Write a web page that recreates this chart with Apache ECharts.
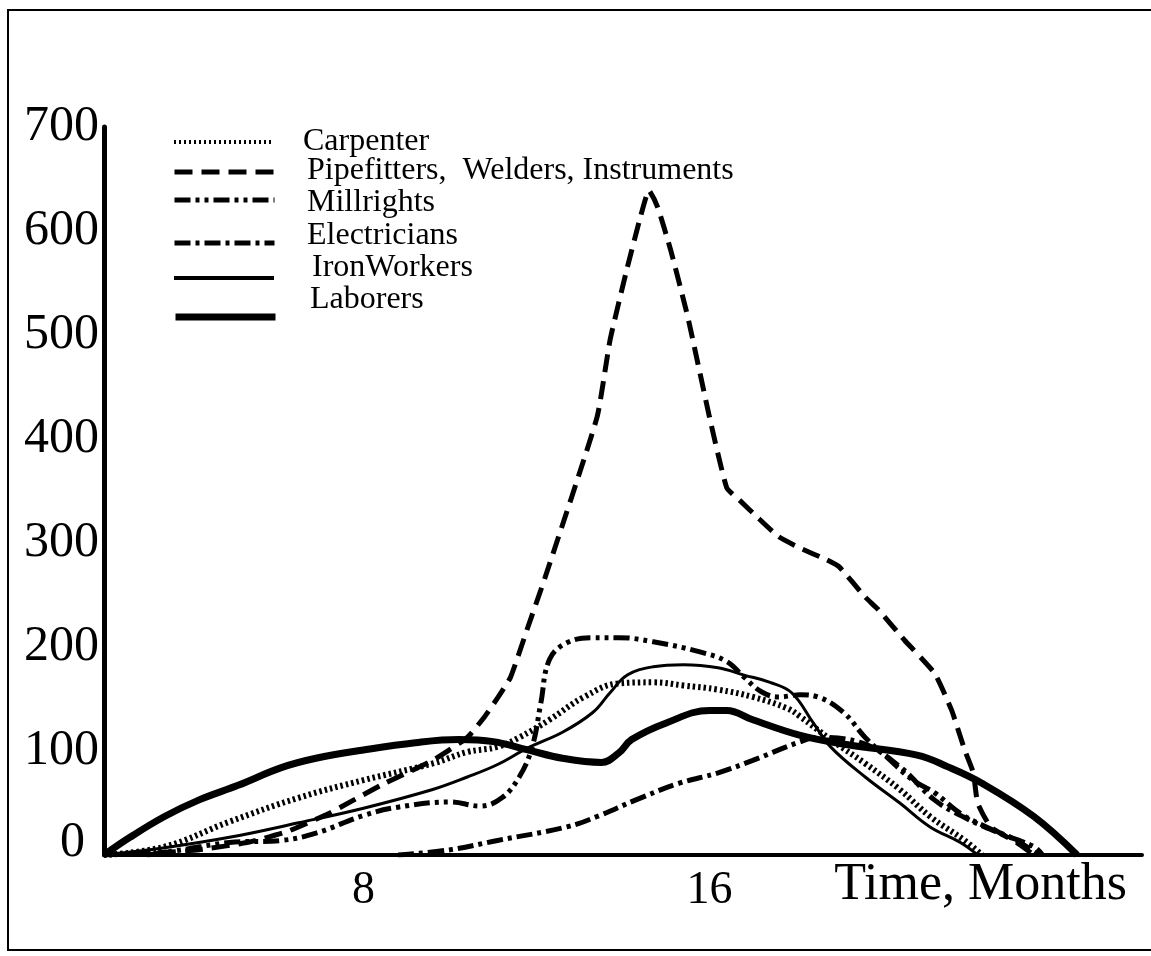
<!DOCTYPE html>
<html lang="en">
<head>
    <meta charset="UTF-8">
    <title>Craft manpower curves</title>
    <script src="https://cdn.jsdelivr.net/npm/echarts@6/dist/echarts.min.js"></script>
    <style>
        html, body { margin: 0; padding: 0; background: #fff; }
        #main { width: 1151px; height: 956px; }
    </style>
</head>
<body>
<div id="main"></div>
<script>
    // series names as printed in the legend
    var names = ['Carpenter', 'Pipefitters,  Welders, Instruments', 'Millrights', 'Electricians', 'IronWorkers', 'Laborers'];

    // [month, workers]
    var carpenter = [[2, 0], [3.4, 8], [4.9, 32], [6.5, 55], [8, 72], [9.6, 88], [10.4, 99], [11.1, 104], [11.6, 113],
        [12.3, 130], [13.1, 152], [13.9, 165], [14.7, 166], [15.4, 163], [16.2, 159], [17, 152], [17.8, 141],
        [18.1, 133], [18.8, 111], [19.6, 88], [20.4, 63], [21.1, 37], [21.9, 14], [22.3, 0]];
    var pipefitters = [[2, 0], [3.2, 2], [4.2, 5], [5.3, 12], [6.2, 22], [7.2, 40], [8.4, 67], [9.6, 91], [10.4, 113],
        [10.8, 133], [11.1, 151], [11.4, 171], [11.8, 219], [12.2, 267], [13.4, 421], [13.7, 495], [14.1, 565],
        [14.4, 613], [14.6, 639], [14.8, 623], [15.1, 582], [15.5, 517], [16, 421], [16.4, 353],
        [16.7, 341], [17.1, 325], [17.6, 306], [18.1, 295], [18.7, 284], [19, 277], [19.6, 248], [19.9, 236],
        [20.5, 207], [21.2, 175], [21.6, 139], [21.9, 101], [22.1, 79], [22.2, 50], [22.5, 27], [23.1, 12], [23.5, 0]];
    var millrights = [[3, 0], [3.8, 5], [4.9, 12], [6.1, 14], [6.9, 21], [8, 38], [8.8, 46], [10, 51], [10.7, 47],
        [11.2, 55], [11.6, 75], [11.9, 104], [12.1, 146], [12.3, 188], [12.7, 204], [13.3, 209], [13.9, 209],
        [14.7, 205], [15.8, 195], [16.4, 186], [16.8, 171], [17.2, 157], [17.6, 152], [18.1, 154], [18.5, 152],
        [19.1, 137], [19.6, 113], [20.1, 94], [20.7, 72], [21.2, 60], [21.8, 40], [22.4, 27], [23.1, 14], [23.6, 0]];
    var electricians = [[8.8, 0], [10, 5], [11.1, 14], [12.7, 27], [13.4, 37], [14.3, 53],
        [15.3, 69], [16.2, 79], [17, 91], [18.1, 109], [18.5, 113], [19.5, 108], [20.4, 85], [21.2, 53], [21.9, 36],
        [22.7, 21], [23.5, 8], [23.7, 0]];
    var ironWorkers = [[2, 0], [3.4, 7], [4.9, 17], [6.5, 31], [8, 45], [9.6, 63], [10.4, 75], [11.1, 87], [11.8, 103],
        [12.6, 118], [13.3, 137], [13.7, 156], [14.1, 173], [14.7, 181], [15.4, 183], [16.2, 180], [16.8, 173],
        [17.4, 166], [17.9, 156], [18.4, 127], [18.8, 104], [19.6, 75], [20.4, 50], [21.1, 27], [21.8, 12], [22.2, 0]];
    var laborers = [[2, 0], [2.6, 17], [3.4, 37], [4.2, 53], [5.1, 67], [6.1, 84], [6.9, 93], [8, 101], [9.2, 108],
        [10.2, 111], [11, 109], [11.8, 101], [12.6, 93], [13.5, 89], [13.9, 98], [14.2, 111], [15, 127], [16, 139],
        [16.4, 139], [17, 130], [18.1, 115], [19.2, 106], [20.8, 96], [21.5, 85], [22.3, 69], [23.5, 37], [24.5, 0]];

    var xLabels = [8, 16];
    var yTicks = [0, 100, 200, 300, 400, 500, 600, 700];

    var serif = '"Liberation Serif", "DejaVu Serif", serif';
    var allData = [carpenter, pipefitters, millrights, electricians, ironWorkers, laborers];

    // line looks: dotted, dashed, dash-dot-dot, dash-dot, thin solid, thick solid
    var dash = [[2.5, 3], [18, 9], [16, 5, 4, 5, 4, 5], [16, 5, 4, 5], 'solid', 'solid'];
    var widths = [6, 5, 5, 5, 3, 7];
    var smooths = [0.4, 0.15, 0.4, 0.4, 0.4, 0.4];

    // legend rows: the sample line sits a bit lower than the text on the last rows
    var iconTop = [142, 172, 200, 243, 278, 317];
    var iconWidth = [4, 5, 5, 5, 4, 7];
    var textTop = [142, 171, 203, 236, 268, 300];
    var textLeft = [303, 307, 307, 307, 312, 310];

    var serie = [];
    var legends = [];
    for (var i = 0; i < names.length; i++) {
        serie.push({
            name: names[i],
            type: 'line',
            data: allData[i],
            symbol: 'none',
            smooth: smooths[i],
            color: '#000',
            lineStyle: {color: '#000', width: widths[i], type: dash[i]},
            z: 3
        });
        // sample line only
        legends.push({
            data: [names[i]],
            left: 172,
            top: iconTop[i] - 7,
            padding: 0,
            itemWidth: 100,
            itemHeight: 14,
            selectedMode: false,
            formatter: function () { return ''; },
            textStyle: {fontSize: 10},
            itemStyle: {color: 'rgba(0,0,0,0)', borderWidth: 0, opacity: 0},
            lineStyle: {color: '#000', width: iconWidth[i], type: i === 0 ? [2, 3] : dash[i], opacity: 1}
        });
        // text only
        legends.push({
            data: [names[i]],
            left: textLeft[i] - 6,
            top: textTop[i] - 16,
            padding: 0,
            icon: 'rect',
            itemWidth: 1,
            itemHeight: 1,
            selectedMode: false,
            itemStyle: {color: 'rgba(0,0,0,0)', borderWidth: 0, opacity: 0},
            textStyle: {fontFamily: serif, fontSize: 32, color: '#000', lineHeight: 32}
        });
    }

    var chart = echarts.init(document.getElementById('main'));
    var option = {
        animation: false,
        backgroundColor: '#fff',
        grid: {left: 104, right: 9, top: 127, bottom: 101, containLabel: false},
        legend: legends,
        graphic: [{
            type: 'rect',
            silent: true,
            z: -10,
            shape: {x: 8, y: 10, width: 1200, height: 940},
            style: {fill: 'none', stroke: '#000', lineWidth: 2}
        }],
        xAxis: {
            type: 'value',
            min: 2,
            max: 26,
            interval: 2,
            splitLine: {show: false},
            axisTick: {show: false},
            axisLine: {lineStyle: {color: '#000', width: 4}},
            axisLabel: {
                color: '#000',
                fontFamily: serif,
                fontSize: 46,
                margin: 13,
                formatter: function (v) {
                    return xLabels.indexOf(v) >= 0 ? String(v) : '';
                }
            },
            name: 'Time, Months',
            nameLocation: 'end',
            nameGap: -15,
            nameMoveOverlap: false,
            nameTextStyle: {
                color: '#000', fontFamily: serif, fontSize: 52,
                align: 'right', verticalAlign: 'top', padding: [4, 0, 0, 0]
            }
        },
        yAxis: {
            type: 'value',
            min: yTicks[0],
            max: yTicks[yTicks.length - 1],
            interval: 100,
            splitLine: {show: false},
            axisTick: {show: false},
            axisLine: {show: true, lineStyle: {color: '#000', width: 5}},
            axisLabel: {
                color: '#000',
                fontFamily: serif,
                fontSize: 50,
                margin: 5,
                formatter: function (v) {
                    // the 0 is printed a little higher and further left
                    return v === 0 ? '{z|0}' : String(v);
                },
                rich: {
                    z: {fontFamily: serif, fontSize: 50, color: '#000', padding: [0, 14, 24, 0]}
                }
            }
        },
        series: serie
    };
    chart.setOption(option);
</script>
</body>
</html>
